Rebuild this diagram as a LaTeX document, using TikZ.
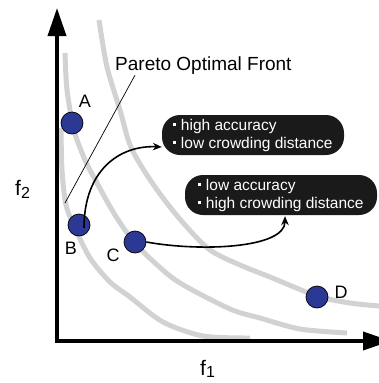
\documentclass[tikz,border=0pt]{standalone}
\usepackage{fontspec}
\setmainfont{Liberation Sans}
\usetikzlibrary{arrows.meta, positioning, calc}
\definecolor{ptblue}{HTML}{2B3894}
\definecolor{lvgray}{HTML}{D0D2D3}
\definecolor{dkink}{HTML}{1A1A1A}
\newcommand{\sqdot}{\raisebox{0.28em}{\rule{2.6pt}{2.6pt}}\hspace{5pt}}

\begin{document}
\begin{tikzpicture}[x=1pt, y=-1pt, >={Stealth[length=9pt, width=7.5pt]},
  pt/.style={circle, draw=black, line width=0.7pt, fill=ptblue, minimum size=22pt, inner sep=0pt},
  ptlabel/.style={font=\fontsize{18}{18}\selectfont, inner sep=0pt},
  axlabel/.style={font=\fontsize{21}{21}\selectfont, inner sep=0pt},
  level/.style={lvgray, line width=5pt},
  flow/.style={->, line width=1.6pt},
  infobox/.style={fill=dkink, text=white, rounded corners=18pt, minimum height=40pt,
    align=left, font=\fontsize{15.5}{18}\selectfont, inner xsep=7pt, inner ysep=2pt}]

% Canvas (pixel units, y downwards)
\useasboundingbox (0,0) rectangle (379,383);
\clip (0,0) rectangle (379,383);

% Level curves
\draw[level] plot[smooth] coordinates {(61,128) (62,170) (66,205) (75,228) (90,258)
  (110,282) (130,297) (163,322) (203,336) (250,338)};
\draw[level] plot[smooth] coordinates {(65,53) (67,90) (74,130) (85,160) (97,183)
  (115,215) (134,242) (155,263) (180,283) (230,309) (260,318) (300,329) (347,333)};
\draw[level] plot[smooth] coordinates {(99,20) (107,67) (120,110) (130,145) (145,172)
  (163,198) (185,225) (210,250) (240,265) (270,277) (317,296) (350,303) (379,306)};

% Axes
\coordinate (origin) at (57,341);
\coordinate (ytip) at (57,8);
\coordinate (xtip) at (391,341);
\draw[line width=3.6pt, {Triangle[length=28pt,width=18pt]}-{Triangle[length=28pt,width=18pt]}]
  (ytip) -- (origin) -- (xtip);
\node[axlabel, anchor=base west] (f2lab) at (15,195) {f\raisebox{-3pt}{\fontsize{16}{16}\selectfont 2}};
\node[axlabel, anchor=base west] (f1lab) at (200,375) {f\raisebox{-2pt}{\fontsize{16}{16}\selectfont 1}};

% Pareto front label
\node[font=\fontsize{19}{19}\selectfont, anchor=base west, inner sep=0pt] (front) at (115,70) {Pareto Optimal Front};
\coordinate (frontend) at (65,203);
\draw[line width=0.7pt] ($(front.south west)+(20,1)$) -- (frontend);

% Solutions
\node[pt] (A) at (72,123) {};
\node[pt] (B) at (79,225) {};
\node[pt] (C) at (135,242) {};
\node[pt] (D) at (317,297) {};
\node[ptlabel] (labA) at ($(A)+(13,-22)$) {A};
\node[ptlabel] (labB) at ($(B)+(-8,23)$) {B};
\node[ptlabel] (labC) at ($(C)+(-22,13)$) {C};
\node[ptlabel] (labD) at ($(D)+(24,-5)$) {D};

% Properties
\node[infobox, minimum width=182pt] (info1) at (253,135) {\sqdot high accuracy\\\sqdot low crowding distance};
\node[infobox, minimum width=192pt] (info2) at (281,195) {\sqdot low accuracy\\\sqdot high crowding distance};

\draw[flow] ($(B.center)+(5,3)$) .. controls +(0,-58) and +(-42,-2) .. ($(info1.west)+(0,12)$);
\draw[flow] (C.east) .. controls +(55,10) and +(0,32) .. ($(info2.south)+(4,1)$);

\end{tikzpicture}
\end{document}
